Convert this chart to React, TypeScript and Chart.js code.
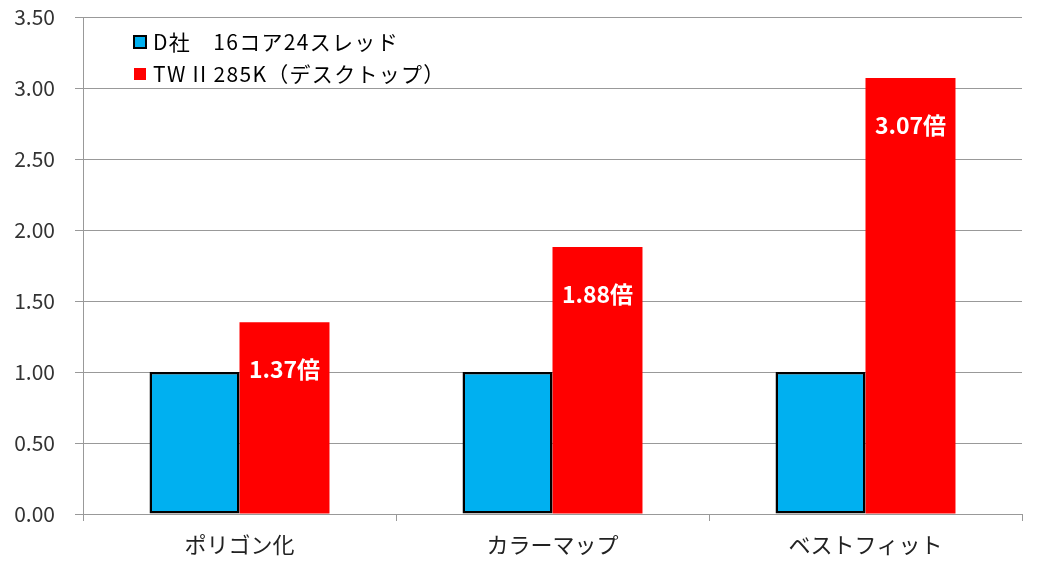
import { useEffect, useRef } from 'react';
import { Chart, registerables } from 'chart.js';

Chart.register(...registerables);

const categories = ['ポリゴン化', 'カラーマップ', 'ベストフィット'];
const seriesNames = ['D社　16コア24スレッド', 'TW II 285K（デスクトップ）'];
const baseValues = [1.0, 1.0, 1.0];
const twValues = [1.35, 1.88, 3.07];
const ratioLabels = ['1.37倍', '1.88倍', '3.07倍'];
const yTicks = [0, 0.5, 1, 1.5, 2, 2.5, 3, 3.5];

const FONT = '"Noto Sans CJK JP", "Noto Sans", sans-serif';
const BLUE = '#00B0F0';
const RED = '#FF0000';

// legend drawn inside the plot, top-left like the original
const legendPlugin = {
  id: 'insideLegend',
  afterDraw(chart: Chart) {
    const { ctx } = chart;
    ctx.save();
    ctx.font = `21px ${FONT}`;
    (ctx as any).letterSpacing = '1.3px';
    ctx.textBaseline = 'middle';
    ctx.textAlign = 'left';
    const rows = [42, 74];
    chart.data.datasets.forEach((ds, i) => {
      const y = rows[i];
      if (i === 0) {
        ctx.fillStyle = BLUE;
        ctx.fillRect(134, y - 6, 12, 12);
        ctx.strokeStyle = '#000';
        ctx.lineWidth = 2;
        ctx.strokeRect(134, y - 6, 12, 12);
      } else {
        ctx.fillStyle = RED;
        ctx.fillRect(134, y - 6, 12, 12);
      }
      ctx.fillStyle = '#000';
      ctx.fillText(String(ds.label), 153, y);
    });
    ctx.restore();
  },
};

const ratioPlugin = {
  id: 'ratioLabels',
  afterDatasetsDraw(chart: Chart) {
    const { ctx } = chart;
    const meta = chart.getDatasetMeta(1);
    ctx.save();
    ctx.font = `bold 23px ${FONT}`;
    ctx.fillStyle = '#fff';
    ctx.textAlign = 'center';
    ctx.textBaseline = 'middle';
    meta.data.forEach((bar: any, i) => {
      ctx.fillText(ratioLabels[i], bar.x, bar.y + 47);
    });
    ctx.restore();
  },
};

export default function App() {
  const canvasRef = useRef<HTMLCanvasElement | null>(null);

  useEffect(() => {
    document.body.style.margin = '0';
    if (canvasRef.current === null) return () => {};
    const chart = new Chart(canvasRef.current, {
      type: 'bar',
      data: {
        labels: categories,
        datasets: [
          {
            label: seriesNames[0],
            data: baseValues,
            backgroundColor: BLUE,
            borderColor: '#000',
            borderWidth: 2.5,
            borderSkipped: false,
            categoryPercentage: 0.575,
            barPercentage: 1,
          },
          {
            label: seriesNames[1],
            data: twValues,
            backgroundColor: RED,
            borderWidth: 0,
            categoryPercentage: 0.575,
            barPercentage: 1,
          },
        ],
      },
      options: {
        animation: false,
        responsive: false,
        layout: { padding: { top: 17, right: 19, bottom: 0, left: 0 } },
        plugins: {
          legend: { display: false },
          tooltip: { enabled: false },
        },
        scales: {
          x: {
            grid: {
              offset: true,
              drawOnChartArea: false,
              drawTicks: true,
              tickLength: 7,
              color: '#999',
            },
            border: { display: true, color: '#999' },
            ticks: {
              color: '#222',
              font: { family: FONT, size: 22 },
              padding: 10,
            },
            afterFit(scale: any) {
              scale.height = 51;
            },
          },
          y: {
            min: 0,
            max: 3.5,
            afterBuildTicks(scale: any) {
              scale.ticks = yTicks.map((v) => ({ value: v }));
            },
            grid: {
              color: '#999',
              tickLength: 8,
            },
            border: { display: true, color: '#999' },
            ticks: {
              color: '#333',
              font: { family: FONT, size: 21 },
              padding: 20,
              callback: (v: any) => Number(v).toFixed(2),
            },
            afterFit(scale: any) {
              scale.width = 83;
              scale.paddingTop = 0;
              scale.paddingBottom = 0;
            },
          },
        },
      },
      plugins: [legendPlugin, ratioPlugin],
    });
    return () => {
      chart.destroy();
    };
  }, []);

  return (
    <div style={{ width: 1041, height: 565 }}>
      <canvas ref={canvasRef} width={1041} height={565} />
    </div>
  );
}
